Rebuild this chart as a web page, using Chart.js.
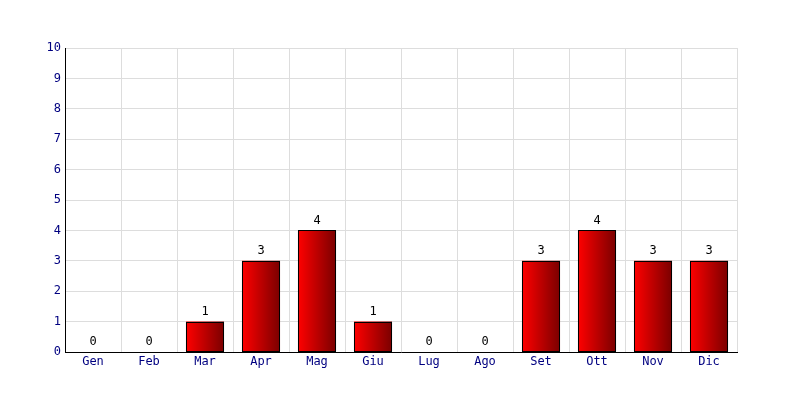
<!DOCTYPE html>
<html>
<head>
<meta charset="utf-8">
<script src="https://cdn.jsdelivr.net/npm/chart.js@4"></script>
<style>
  html, body { margin: 0; padding: 0; background: #fff; }
  #wrap { width: 800px; height: 400px; }
</style>
</head>
<body>
<div id="wrap"><canvas id="myChart" width="800" height="400"></canvas></div>
<script>
const months = ['Gen', 'Feb', 'Mar', 'Apr', 'Mag', 'Giu', 'Lug', 'Ago', 'Set', 'Ott', 'Nov', 'Dic'];
const counts = [0, 0, 1, 3, 4, 1, 0, 0, 3, 4, 3, 3];
const yTicks = [0, 1, 2, 3, 4, 5, 6, 7, 8, 9, 10];

const FONT = '"DejaVu Sans Mono", monospace';
const BAR_PCT = 0.68;

// horizontal red gradient for each bar
function barGradient(context) {
  const chart = context.chart;
  const x = chart.scales.x;
  if (!chart.chartArea || !x) return '#cc0000';
  const center = x.getPixelForValue(context.dataIndex);
  const half = (x.width / months.length) * BAR_PCT / 2;
  const g = chart.ctx.createLinearGradient(center - half, 0, center + half, 0);
  g.addColorStop(0, '#ff0000');
  g.addColorStop(1, '#7a0000');
  return g;
}

// crisp black outlines and value labels above bars
const barExtras = {
  id: 'barExtras',
  afterDatasetsDraw(chart) {
    const ctx = chart.ctx;
    const meta = chart.getDatasetMeta(0);
    ctx.save();
    ctx.strokeStyle = '#000';
    ctx.lineWidth = 1;
    meta.data.forEach((bar, i) => {
      if (counts[i] <= 0) return;
      const l = Math.round(bar.x - bar.width / 2) + 0.5;
      const r = Math.round(bar.x + bar.width / 2) - 0.5;
      const t = Math.round(bar.y) + 0.5;
      const b = Math.round(bar.base) - 0.5;
      ctx.strokeRect(l, t, r - l, b - t);
    });
    ctx.font = '12px ' + FONT;
    ctx.fillStyle = '#000';
    ctx.textAlign = 'center';
    ctx.textBaseline = 'bottom';
    meta.data.forEach((bar, i) => {
      ctx.fillText(String(counts[i]), bar.x, bar.y - 4);
    });
    ctx.restore();
  }
};

const chart = new Chart(document.getElementById('myChart'), {
  type: 'bar',
  data: {
    labels: months,
    datasets: [{
      data: counts,
      backgroundColor: barGradient,
      borderWidth: 0,
      barPercentage: BAR_PCT,
      categoryPercentage: 1
    }]
  },
  options: {
    responsive: false,
    animation: false,
    layout: { padding: { left: 0, right: 63, top: 48, bottom: 0 } },
    plugins: { legend: { display: false }, tooltip: { enabled: false } },
    scales: {
      x: {
        grid: { color: '#dddddd', drawTicks: false, offset: true },
        border: { color: '#000', width: 1 },
        ticks: { color: '#000080', font: { family: FONT, size: 12 }, padding: 3 },
        afterFit(scale) { scale.height = 48; }
      },
      y: {
        min: 0,
        max: 10,
        afterBuildTicks(scale) { scale.ticks = yTicks.map(v => ({ value: v })); },
        grid: { color: '#dddddd', drawTicks: false },
        border: { color: '#000', width: 1 },
        ticks: { color: '#000080', font: { family: FONT, size: 12 }, padding: 4 },
        afterFit(scale) { scale.width = 65; }
      }
    }
  },
  plugins: [barExtras]
});
</script>
</body>
</html>
